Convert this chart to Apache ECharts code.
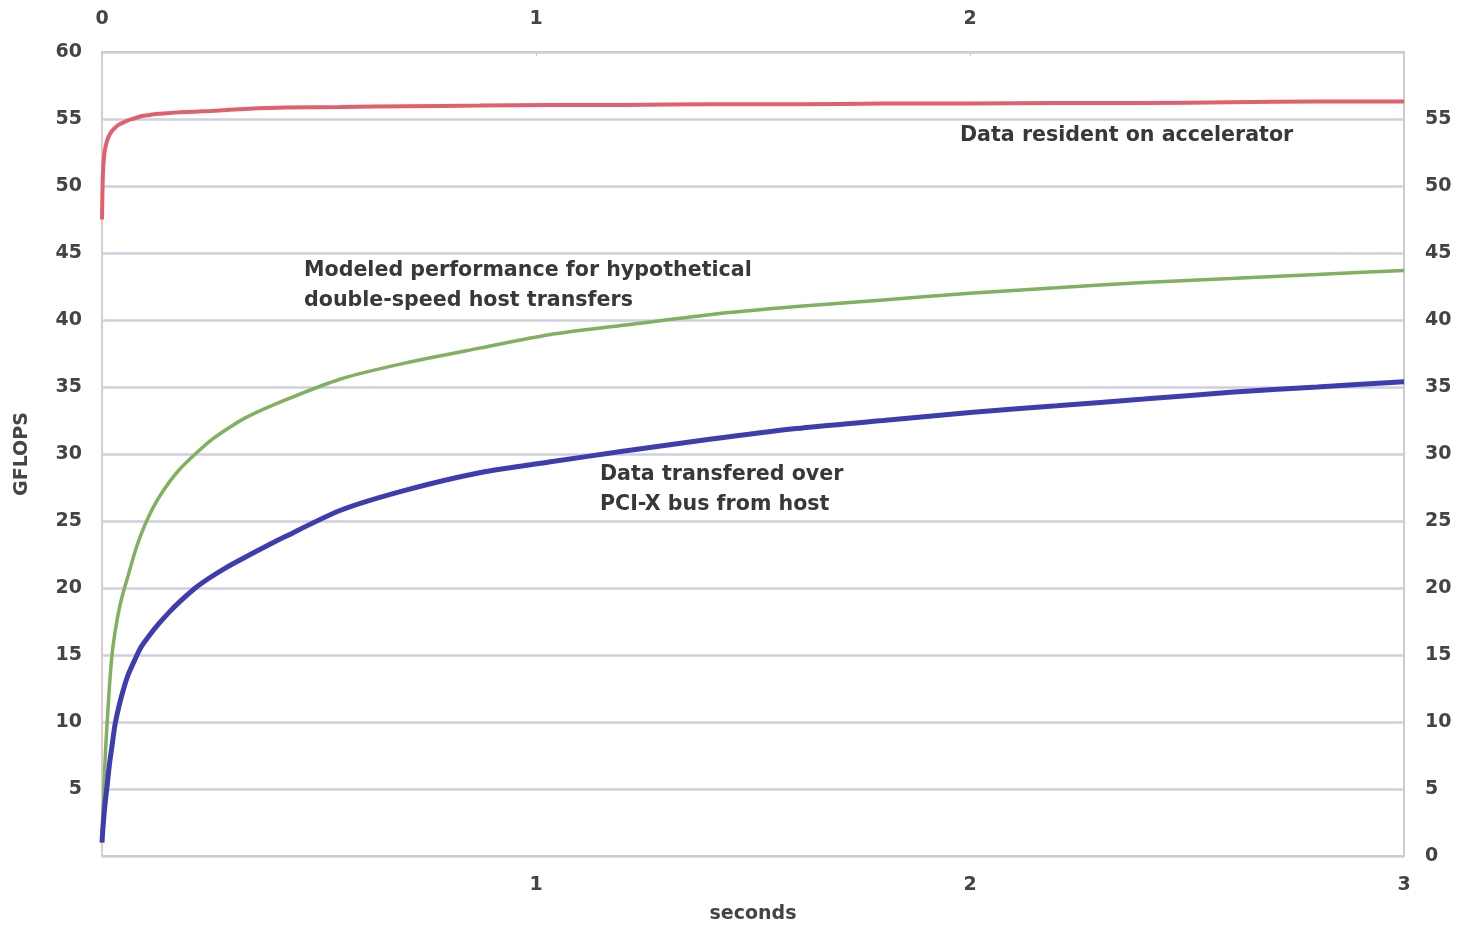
<!DOCTYPE html>
<html>
<head>
<meta charset="utf-8">
<script src="https://cdn.jsdelivr.net/npm/echarts@6/dist/echarts.min.js"></script>
<style>
html,body{margin:0;padding:0;background:#fff;}
#chart{width:1460px;height:925px;}
</style>
</head>
<body>
<div id="chart"></div>
<script>
// time in seconds (sample points)
var seconds = [0, 0.002, 0.005, 0.008, 0.012, 0.017, 0.023, 0.03, 0.04, 0.05, 0.06, 0.075, 0.09, 0.11, 0.13, 0.155, 0.18, 0.215, 0.25, 0.29, 0.33, 0.42, 0.55, 0.7, 0.87, 1.03, 1.2, 1.4, 1.6, 1.8, 2.0, 2.2, 2.4, 2.6, 2.8, 3.0];
// GFLOPS, data resident on accelerator
var residentGflops = [47.5, 50.8, 52.3, 52.9, 53.4, 53.8, 54.1, 54.35, 54.6, 54.75, 54.9, 55.05, 55.2, 55.3, 55.4, 55.45, 55.5, 55.55, 55.6, 55.68, 55.75, 55.85, 55.9, 55.95, 56.0, 56.05, 56.05, 56.1, 56.1, 56.15, 56.15, 56.2, 56.2, 56.25, 56.3, 56.3];
// GFLOPS, modeled double-speed host transfers
var modeledGflops = [1.5, 3.0, 5.5, 7.8, 10.0, 12.6, 15.0, 16.7, 18.5, 19.8, 20.9, 22.6, 24.0, 25.5, 26.7, 27.9, 28.9, 30.0, 31.0, 31.9, 32.7, 34.0, 35.6, 36.8, 37.9, 38.9, 39.6, 40.4, 41.0, 41.5, 42.0, 42.4, 42.8, 43.1, 43.4, 43.7];
// GFLOPS, data transfered over PCI-X bus from host
var pcixGflops = [1.0, 2.0, 3.2, 4.2, 5.3, 6.8, 8.2, 9.8, 11.3, 12.5, 13.5, 14.6, 15.6, 16.5, 17.3, 18.2, 19.0, 20.0, 20.8, 21.6, 22.3, 23.8, 25.8, 27.3, 28.6, 29.4, 30.2, 31.1, 31.9, 32.5, 33.1, 33.6, 34.1, 34.6, 35.0, 35.4];

var annotations = [
  {text: 'Data resident on accelerator', x: 960, y: 135},
  {text: 'Modeled performance for hypothetical', x: 304, y: 270},
  {text: 'double-speed host transfers', x: 304, y: 300},
  {text: 'Data transfered over', x: 600, y: 474},
  {text: 'PCI-X bus from host', x: 600, y: 504}
];

function pairs(xs, ys) { return xs.map(function (x, i) { return [x, ys[i]]; }); }

var FONT = '"DejaVu Sans", "Liberation Sans", Arial, sans-serif';
var labelFont = {color: '#444', fontSize: 19, fontWeight: 'bold', fontFamily: FONT};
var gridColor = '#cfcfe0';
var borderColor = '#cccccc';

var chart = echarts.init(document.getElementById('chart'));
chart.setOption({
  backgroundColor: '#ffffff',
  animation: false,
  grid: {left: 102, right: 56, top: 52, bottom: 69, containLabel: false, outerBoundsMode: 'none'},
  xAxis: [
    {
      type: 'value', position: 'bottom', min: 0, max: 3, interval: 1,
      name: 'seconds', nameLocation: 'middle', nameGap: 49,
      nameTextStyle: labelFont,
      axisLine: {show: true, lineStyle: {color: borderColor, width: 2}},
      axisTick: {show: false},
      splitLine: {show: false},
      axisLabel: Object.assign({margin: 20, formatter: function (v) { return v === 0 ? '' : String(v); }}, labelFont)
    },
    {
      type: 'value', position: 'top', min: 0, max: 3, interval: 1,
      axisLine: {show: true, onZero: false, lineStyle: {color: borderColor, width: 2}},
      axisTick: {show: true, length: 4, inside: true, lineStyle: {color: borderColor}},
      splitLine: {show: false},
      axisLabel: Object.assign({margin: 23, formatter: function (v) { return v === 3 ? '' : String(v); }}, labelFont)
    }
  ],
  yAxis: [
    {
      type: 'value', position: 'left', min: 0, max: 60, interval: 5,
      name: 'GFLOPS', nameLocation: 'middle', nameGap: 70, nameRotate: 90,
      nameTextStyle: labelFont,
      axisLine: {show: true, onZero: false, lineStyle: {color: '#e3caca', width: 2}},
      axisTick: {show: false},
      splitLine: {show: true, lineStyle: {color: gridColor, width: 2.5}},
      axisLabel: Object.assign({margin: 20, formatter: function (v) { return v === 0 ? '' : String(v); }}, labelFont)
    },
    {
      type: 'value', position: 'right', min: 0, max: 60, interval: 5,
      axisLine: {show: true, onZero: false, lineStyle: {color: borderColor, width: 2}},
      axisTick: {show: false},
      splitLine: {show: false},
      axisLabel: Object.assign({margin: 21, formatter: function (v) { return v === 60 ? '' : String(v); }}, labelFont)
    }
  ],
  series: [
    {
      name: 'Data resident on accelerator', type: 'line', xAxisIndex: 0, yAxisIndex: 0,
      data: pairs(seconds, residentGflops), showSymbol: false, smooth: 0.25,
      lineStyle: {color: '#e0606c', width: 4}, z: 3
    },
    {
      name: 'Modeled performance for hypothetical double-speed host transfers', type: 'line', xAxisIndex: 0, yAxisIndex: 0,
      data: pairs(seconds, modeledGflops), showSymbol: false, smooth: 0.25,
      lineStyle: {color: '#80b060', width: 3.5}, z: 3
    },
    {
      name: 'Data transfered over PCI-X bus from host', type: 'line', xAxisIndex: 0, yAxisIndex: 0,
      data: pairs(seconds, pcixGflops), showSymbol: false, smooth: 0.25,
      lineStyle: {color: '#3d3db0', width: 5}, z: 3
    }
  ],
  graphic: annotations.map(function (a) {
    return {
      type: 'text', left: a.x, top: a.y - 10, z: 10,
      style: {text: a.text, fill: '#383838', font: 'bold 20.6px ' + FONT}
    };
  })
});
</script>
</body>
</html>
